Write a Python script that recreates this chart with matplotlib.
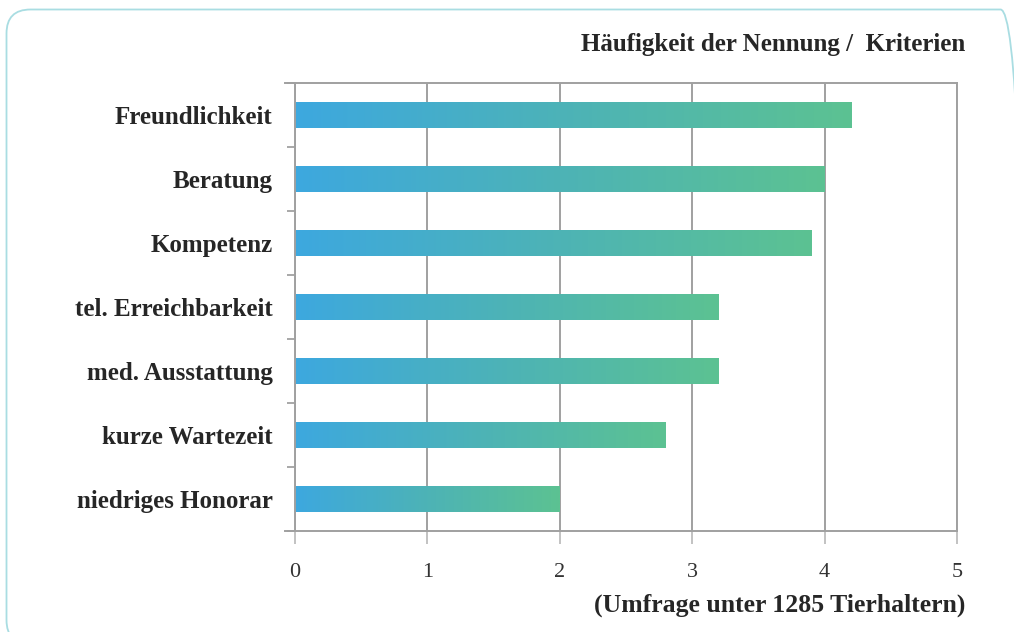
import numpy as np
import matplotlib.pyplot as plt
from matplotlib.colors import LinearSegmentedColormap
from matplotlib.patches import FancyBboxPatch
from matplotlib.transforms import IdentityTransform

# data
categories = [
    "Freundlichkeit",
    "Beratung",
    "Kompetenz",
    "tel. Erreichbarkeit",
    "med. Ausstattung",
    "kurze Wartezeit",
    "niedriges Honorar",
]
values = [4.2, 4.0, 3.9, 3.2, 3.2, 2.8, 2.0]
x_ticks = [0, 1, 2, 3, 4, 5]

title = "Häufigkeit der Nennung /  Kriterien"
note = "(Umfrage unter 1285 Tierhaltern)"

serif = ["Liberation Serif", "DejaVu Serif"]
cmap = LinearSegmentedColormap.from_list("bar", ["#3da8df", "#4db3b6", "#5cc292"])
grey = "#a0a0a0"

fig = plt.figure(figsize=(10.14, 6.32), dpi=100)

# rounded frame, runs off the right and bottom edges (pixel coords)
frame = FancyBboxPatch((6.5, -12), 1018, 632 - 9.5 + 12,
                       boxstyle="round,pad=0,rounding_size=24",
                       transform=IdentityTransform(), fill=False,
                       edgecolor="#a9dde2", linewidth=1.3)
fig.patches.append(frame)

ax = fig.add_axes([0.2909, 0.1598, 0.6529, 0.7089])

n = len(categories)
ypos = np.arange(n)
bar_h = 0.4
grad = np.linspace(0, 1, 256).reshape(1, -1)
for y, v in zip(ypos, values):
    ax.imshow(grad, cmap=cmap, aspect="auto",
              extent=[0, v, y + bar_h / 2, y - bar_h / 2], zorder=2)

ax.set_xlim(0, 5)
ax.set_ylim(n - 0.5, -0.5)

ax.set_xticks(x_ticks)
ax.set_xticklabels([str(t) for t in x_ticks], family=serif, fontsize=16, color="#333333")
ax.set_yticks(ypos)
ax.set_yticklabels(categories, family=serif, fontsize=18, fontweight="bold", color="#262626")
ax.set_yticks(np.arange(-0.5, n, 1), minor=True)

ax.tick_params(axis="y", which="major", length=0, pad=16)
ax.tick_params(axis="y", which="minor", length=6, color="#999999", width=1.2, direction="out")
ax.tick_params(axis="x", which="major", length=9, color="#b8b8b8", width=1.2, pad=14)

ax.grid(axis="x", color=grey, linewidth=1.4, zorder=1)
for s in ["top", "bottom", "left", "right"]:
    ax.spines[s].set_color(grey)
    ax.spines[s].set_linewidth(1.4)

# top and bottom lines stick out a little to the left
for yy in (n - 0.5, -0.5):
    ax.axhline(yy, xmin=-0.015, xmax=0, color=grey, linewidth=1.4, clip_on=False)

fig.text(0.952, 0.929, title, ha="right", va="center", family=serif,
         fontsize=18, fontweight="bold", color="#262626")
fig.text(0.952, 0.043, note, ha="right", va="center", family=serif,
         fontsize=18.5, fontweight="bold", color="#262626")

fig.savefig("out.png", dpi=100)
